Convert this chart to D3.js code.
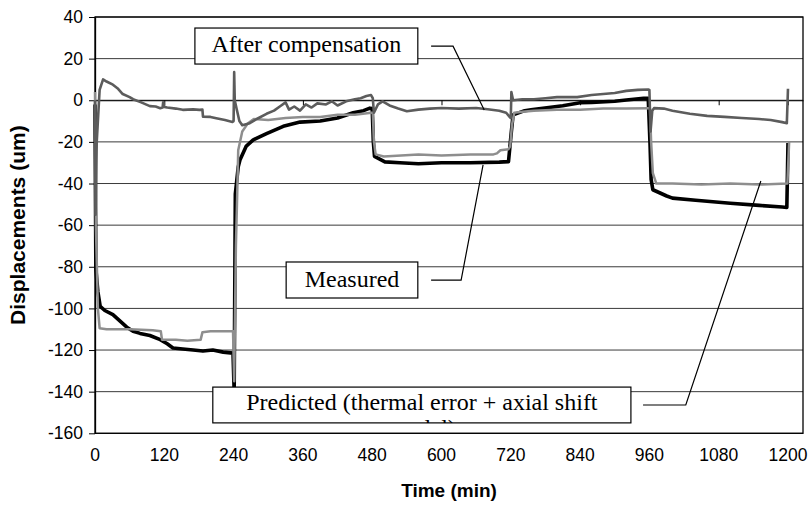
<!DOCTYPE html>
<html>
<head>
<meta charset="utf-8">
<script src="https://cdn.jsdelivr.net/npm/d3@7"></script>
<style>
  body { margin: 0; background: #fff; }
  svg { display: block; }
</style>
</head>
<body>
<div id="chart"></div>
<script>
// time (min), displacement (um)
const measuredT = [0, 1.5, 5, 9, 17, 31, 43, 55, 66, 78, 95, 113, 125, 135, 152, 170, 187, 204, 222, 239, 241, 243, 248, 251, 262, 274, 297, 326, 355, 390, 420, 447, 465, 476, 480, 482, 484, 502, 528, 560, 600, 650, 700, 716, 721, 724, 744, 755, 810, 840, 860, 900, 920, 950, 958, 961, 963, 966, 990, 1000, 1040, 1100, 1150, 1190, 1198, 1200];
const measuredV = [-2, -81, -92, -99, -101, -103, -106, -109, -111, -112, -113, -115, -117, -119, -119.5, -120, -120.5, -120, -121, -121.5, -140, -45, -32, -28.7, -22, -19, -16, -12.5, -10.5, -10, -8.5, -6, -5, -3.8, -4, -20, -27, -29.6, -30, -30.5, -30, -30, -29.7, -29.5, -15, -7, -5, -4.6, -2.6, -1.2, -1, -0.5, 0.1, 1, 1, -20, -38, -43, -46, -47, -48, -49.5, -50.5, -51.3, -51.5, -20.5];

const predictedT = [0, 1.5, 5, 8, 20, 60, 100, 114, 116, 140, 160, 183, 186, 200, 220, 239, 241, 244, 246, 248, 255, 265, 275, 300, 330, 360, 390, 420, 450, 478, 481, 483, 486, 500, 530, 560, 600, 650, 690, 696, 702, 716, 719, 722, 726, 740, 760, 800, 840, 880, 920, 958, 961, 963, 966, 972, 1000, 1050, 1100, 1150, 1199, 1202];
const predictedV = [4, -60, -100, -109.5, -110, -110, -110.5, -111, -115, -115, -115.5, -115, -111.5, -111, -111, -111, -135, -70, -48, -24, -15, -11, -9, -9.5, -8.5, -8, -8, -7, -7, -6, -6, -20, -26, -27, -26.5, -26, -26.5, -26, -26, -25.5, -24, -23.5, -22, -12, -6, -5.5, -5, -4.5, -4.5, -4, -4, -3.8, -3.8, -20, -35, -40, -40, -40.5, -40, -40.5, -40, -20];

const compT = [0, 1, 3, 8, 14, 20, 31, 40, 48, 60, 66, 80, 95, 105, 113, 117, 118, 120, 125, 140, 152, 170, 181, 186, 187, 200, 210, 225, 238, 240, 241, 242, 246, 250, 255, 268, 280, 297, 310, 320, 330, 336, 345, 355, 365, 375, 385, 400, 410, 420, 435, 450, 460, 470, 478, 481, 483, 490, 498, 510, 525, 540, 560, 580, 600, 630, 660, 680, 700, 712, 718, 720, 721, 724, 740, 760, 780, 800, 835, 860, 880, 900, 920, 940, 958, 960, 962, 965, 968, 985, 1000, 1030, 1060, 1090, 1120, 1150, 1170, 1190, 1198, 1200];
const compV = [0, -55, -20, 5, 10, 9, 7.5, 5.5, 3, 1.5, 0.5, -1, -2.8, -3, -3.8, -3.5, -1, -3.2, -3.5, -4, -4.6, -4.4, -4.6, -4.5, -7.9, -8, -8.6, -9.5, -10.4, -10, 13.5, 0, -5, -10, -12, -11, -9, -6.5, -5, -3, -1, -4.5, -3, -5, -2, -3.5, -1.5, -2, -0.5, -2.5, -0.5, 0.5, 1, 2, 2.5, 1, -6, -2, -0.5, -2.5, -4, -5.3, -4.5, -4, -3.7, -4, -3.7, -4.3, -5, -6, -8, -8.5, 4, 0, 0.5, 0.5, 1, 1.5, 1.5, 2.5, 3, 3.5, 4.5, 5, 5.2, 5, -15, -5, -3.8, -4, -5, -6.5, -7.5, -8, -8.5, -9, -9.5, -10.5, -11, 5.5];

const xTicks = [0, 120, 240, 360, 480, 600, 720, 840, 960, 1080, 1200];
const yTicks = [40, 20, 0, -20, -40, -60, -80, -100, -120, -140, -160];

const W = 810, H = 514;
const pLeft = 95, pRight = 803, pTop = 17, pBottom = 433.3;

const svg = d3.select("#chart").append("svg")
    .attr("width", W)
    .attr("height", H);

const x = d3.scaleLinear().domain([0, 1226]).range([pLeft, pRight]);
const y = d3.scaleLinear().domain([-160, 40]).range([pBottom, pTop]);

// gridlines
svg.append("g")
    .selectAll("line")
    .data(yTicks)
    .join("line")
    .attr("x1", pLeft).attr("x2", pRight)
    .attr("y1", d => y(d)).attr("y2", d => y(d))
    .attr("stroke", "#3a3a3a")
    .attr("stroke-width", 1);

// plot border
svg.append("rect")
    .attr("x", pLeft).attr("y", pTop)
    .attr("width", pRight - pLeft).attr("height", pBottom - pTop)
    .attr("fill", "none")
    .attr("stroke", "#000")
    .attr("stroke-width", 1.3);

// y axis
const yAxis = d3.axisLeft(y).tickValues(yTicks).tickSize(6).tickSizeOuter(0).tickPadding(6)
    .tickFormat(d => String(d));
const gy = svg.append("g").attr("transform", `translate(${pLeft},0)`).call(yAxis);
gy.select(".domain").attr("stroke", "#000").attr("stroke-width", 1.3);
gy.selectAll(".tick line").attr("stroke", "#000");
gy.selectAll("text")
    .attr("font-family", "Liberation Sans, Arial, sans-serif")
    .attr("font-size", 17.5)
    .attr("fill", "#000");

// x axis crossing at y = 0, labels at the bottom
const xAxis = d3.axisBottom(x).tickValues(xTicks).tickSize(5).tickSizeOuter(0).tickFormat("");
const gx = svg.append("g").attr("transform", `translate(0,${y(0)})`).call(xAxis);
gx.select(".domain").attr("stroke", "#000").attr("stroke-width", 1);
gx.selectAll(".tick line").attr("stroke", "#000");

svg.append("g")
    .selectAll("text")
    .data(xTicks)
    .join("text")
    .attr("x", d => x(d))
    .attr("y", 461)
    .attr("text-anchor", "middle")
    .attr("font-family", "Liberation Sans, Arial, sans-serif")
    .attr("font-size", 17.5)
    .text(d => d);

// axis titles
svg.append("text")
    .attr("x", (pLeft + pRight) / 2)
    .attr("y", 497)
    .attr("text-anchor", "middle")
    .attr("font-family", "Liberation Sans, Arial, sans-serif")
    .attr("font-weight", "bold")
    .attr("font-size", 19)
    .text("Time (min)");

svg.append("text")
    .attr("transform", `translate(25,${(pTop + pBottom) / 2}) rotate(-90)`)
    .attr("text-anchor", "middle")
    .attr("font-family", "Liberation Sans, Arial, sans-serif")
    .attr("font-weight", "bold")
    .attr("font-size", 21)
    .text("Displacements (um)");

// series
const line = d3.line().x(d => x(d[0])).y(d => y(d[1]));
const series = [
    {t: measuredT, v: measuredV, color: "#000", w: 3.6},
    {t: predictedT, v: predictedV, color: "#8e8e8e", w: 2.5},
    {t: compT, v: compV, color: "#5c5c5c", w: 2.6}
];
series.forEach(s => {
    svg.append("path")
        .datum(s.t.map((t, i) => [t, s.v[i]]))
        .attr("fill", "none")
        .attr("stroke", s.color)
        .attr("stroke-width", s.w)
        .attr("stroke-linejoin", "round")
        .attr("d", line);
});

// annotations (box corners, leader points in data units)
const notes = [
    {lines: ["After compensation"], box: [173, 559, 34.7, 17.4], base: 23.0,
     leader: [[582, 26], [620, 26], [674, -4.7]]},
    {lines: ["Measured"], box: [331, 559, -77.7, -95], base: -89.8,
     leader: [[582, -86.4], [634, -86.4], [672, -31]]},
    {lines: ["Predicted (thermal error + axial shift", "model)"], box: [204, 928, -137.8, -155], base: -148.6,
     leader: [[949, -146.4], [1023, -146.4], [1153, -38.8]]}
];

notes.forEach((n, k) => {
    const bx = x(n.box[0]), bw = x(n.box[1]) - x(n.box[0]);
    const by = y(n.box[2]), bh = y(n.box[3]) - y(n.box[2]);
    svg.append("path")
        .attr("d", d3.line().x(d => x(d[0])).y(d => y(d[1]))(n.leader))
        .attr("fill", "none")
        .attr("stroke", "#000")
        .attr("stroke-width", 1.2);
    svg.append("clipPath").attr("id", "clip" + k)
        .append("rect").attr("x", bx).attr("y", by).attr("width", bw).attr("height", bh);
    svg.append("rect")
        .attr("x", bx).attr("y", by).attr("width", bw).attr("height", bh)
        .attr("fill", "#fff")
        .attr("stroke", "#000")
        .attr("stroke-width", 1.2);
    const t = svg.append("text")
        .attr("clip-path", `url(#clip${k})`)
        .attr("text-anchor", "middle")
        .attr("font-family", "Liberation Serif, Times New Roman, serif")
        .attr("font-size", 24);
    n.lines.forEach((s, i) => {
        t.append("tspan")
            .attr("x", bx + bw / 2)
            .attr("y", y(n.base) + i * 26)
            .text(s);
    });
});
</script>
</body>
</html>
